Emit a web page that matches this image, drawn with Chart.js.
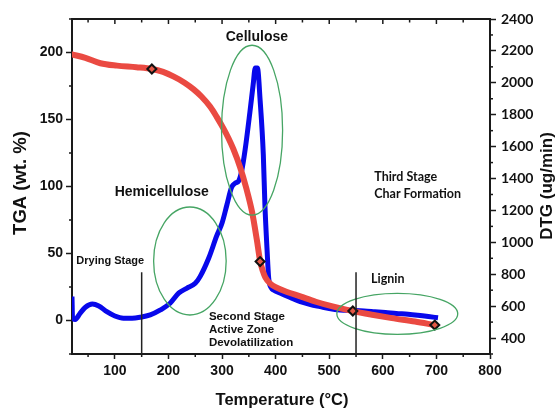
<!DOCTYPE html>
<html><head><meta charset="utf-8">
<script src="https://cdn.jsdelivr.net/npm/chart.js@4"></script>
<style>html,body{margin:0;padding:0;background:#fff}#wrap{width:555px;height:409px}</style>
</head><body><div id="wrap"><canvas id="c" width="555" height="409"></canvas></div>
<script>
// ---- data ----
const dtgTemp = [20,21,26,35,45,58,70,85,100,116,132,147,166,185,203,219,234,250,259,275,290,300,309,318,325,331,337,343,352,358,362,366,371,377,380,384,387,392,396,408,425,446,465,483,500,520,545,565,585,605,625,647,665,685,703];
const dtgValue = [660,525,517,555,593,613,601,565,538,524,524,530,545,576,618,681,712,743,785,900,1040,1121,1234,1347,1372,1385,1454,1579,1817,1987,2093,2093,1892,1548,1234,952,776,714,701,682,657,628,610,597,585,576,573,570,565,560,554,549,543,535,527];
const tgaTemp = [20,45,73,104,140,169,190,210,230,247,262,278,290,303,312,321,334,345,356,365,371,376,381,390,402,420,446,475,508,544,580,617,660,697];
const tgaValue = [198.6,196,192,190.2,189,187.7,185.5,182,177.5,172.5,167,159.5,152,143,136,128,114,99,81,60,44.5,37,32,27.5,24.5,21.5,18,14,10.3,7,4.3,1.8,-0.8,-3.4];
const markerTemp = [169,371,544,697];
const markerValue = [187.7,44,7.1,-3.4];
const xTicks = [100,200,300,400,500,600,700,800];
const yTicks = [0,50,100,150,200];
const y2Ticks = [400,600,800,1000,1200,1400,1600,1800,2000,2200,2400];
const xMinor = [50,150,250,350,450,550,650,750];
const yMinor = [-25,25,75,125,175,225];
const y2Minor = [300,500,700,900,1100,1300,1500,1700,1900,2100,2300];
// annotation ellipses (data units: temperature, TGA)
const ellipseNames = ['Hemicellulose','Cellulose','Lignin'];
const ellipseCx = [240,356,627];
const ellipseCy = [44.4,142,5];
const ellipseRx = [67.7,57,112.8];
const ellipseRy = [40.3,63.4,15.3];
// stage divider lines (temperature, from TGA value down to axis)
const dividerTemp = [150,550];
const dividerTop = [36,36];
// text labels (temperature, TGA)
const labelText = ['Cellulose','Hemicellulose','Drying Stage','Second Stage','Active Zone','Devolatilization','Third Stage','Char Formation','Lignin'];
const labelTemp = [365,187.5,28,275.5,275.5,275.5,584,584,578];
const labelTga = [211.6,95.9,44.4,2.4,-7.1,-17,107.3,94.2,30.7];
const labelStyle = ['big','big','small','mid','mid','mid','cal','cal','cal'];

const AX = '#1a1a1a';
const ARIAL = '"Liberation Sans", Arial, sans-serif';
const CAL = 'Lato, "Open Sans", sans-serif';

const fixedTicks = arr => axis => { axis.ticks = arr.map(v => ({value: v})); };
const plain = v => String(v);

const decor = {
  id: 'decor',
  afterDatasetsDraw(chart) {
    const ctx = chart.ctx, xs = chart.scales.x, ys = chart.scales.y;
    const a = chart.chartArea;
    ctx.save();
    // ellipses
    ctx.strokeStyle = 'rgb(70,165,100)';
    ctx.lineWidth = 1.3;
    for (let i = 0; i < ellipseCx.length; i++) {
      const cx = xs.getPixelForValue(ellipseCx[i]), cy = ys.getPixelForValue(ellipseCy[i]);
      const rx = Math.abs(xs.getPixelForValue(ellipseCx[i] + ellipseRx[i]) - cx);
      const ry = Math.abs(ys.getPixelForValue(ellipseCy[i] + ellipseRy[i]) - cy);
      ctx.beginPath(); ctx.ellipse(cx, cy, rx, ry, 0, 0, Math.PI * 2); ctx.stroke();
    }
    // divider lines
    ctx.strokeStyle = '#222'; ctx.lineWidth = 1.5;
    for (let i = 0; i < dividerTemp.length; i++) {
      const px = xs.getPixelForValue(dividerTemp[i]);
      ctx.beginPath(); ctx.moveTo(px, ys.getPixelForValue(dividerTop[i])); ctx.lineTo(px, a.bottom); ctx.stroke();
    }
    // text labels
    ctx.fillStyle = '#111'; ctx.textBaseline = 'middle';
    const fonts = {big: 'bold 14px ' + ARIAL, small: 'bold 11px ' + ARIAL, mid: 'bold 11.5px ' + ARIAL, cal: 'bold 12.5px ' + CAL};
    for (let i = 0; i < labelText.length; i++) {
      ctx.font = fonts[labelStyle[i]];
      ctx.textAlign = labelStyle[i] === 'big' ? 'center' : 'left';
      ctx.fillText(labelText[i], xs.getPixelForValue(labelTemp[i]), ys.getPixelForValue(labelTga[i]));
    }
    ctx.restore();
  },
  afterDraw(chart) {
    const ctx = chart.ctx, xs = chart.scales.x, ys = chart.scales.y, y2 = chart.scales.y2;
    const a = chart.chartArea;
    ctx.save();
    ctx.strokeStyle = AX;
    // top frame
    ctx.lineWidth = 2;
    ctx.beginPath(); ctx.moveTo(a.left - 1, a.top); ctx.lineTo(a.right + 1, a.top); ctx.stroke();
    ctx.lineWidth = 1.5;
    // top inward ticks
    xTicks.concat(xMinor).forEach(v => {
      if (v >= 800) return;
      const px = xs.getPixelForValue(v), len = xTicks.includes(v) ? 5 : 3.5;
      ctx.beginPath(); ctx.moveTo(px, a.top); ctx.lineTo(px, a.top + len); ctx.stroke();
    });
    // minor ticks
    xMinor.forEach(v => {
      const px = xs.getPixelForValue(v);
      ctx.beginPath(); ctx.moveTo(px, a.bottom); ctx.lineTo(px, a.bottom + 3); ctx.stroke();
    });
    yMinor.forEach(v => {
      const py = ys.getPixelForValue(v);
      ctx.beginPath(); ctx.moveTo(a.left, py); ctx.lineTo(a.left - 3, py); ctx.stroke();
    });
    y2Minor.forEach(v => {
      const py = y2.getPixelForValue(v);
      ctx.beginPath(); ctx.moveTo(a.right, py); ctx.lineTo(a.right + 3, py); ctx.stroke();
    });
    // axis titles
    ctx.fillStyle = '#111'; ctx.textAlign = 'center'; ctx.textBaseline = 'middle';
    ctx.font = 'bold 16.5px ' + ARIAL;
    ctx.fillText('Temperature (°C)', 282, 400);
    ctx.save(); ctx.translate(21, 183); ctx.rotate(-Math.PI / 2);
    ctx.font = 'bold 18.5px ' + ARIAL; ctx.fillText('TGA (wt. %)', 0, 0); ctx.restore();
    ctx.save(); ctx.translate(547, 186); ctx.rotate(-Math.PI / 2);
    ctx.font = 'bold 17px ' + ARIAL; ctx.fillText('DTG (ug/min)', 0, 0); ctx.restore();
    ctx.restore();
  }
};

new Chart(document.getElementById('c'), {
  type: 'line',
  data: {
    datasets: [
      {
        label: 'markers', data: markerTemp.map((t, i) => ({x: t, y: markerValue[i]})), yAxisID: 'y',
        showLine: false, pointStyle: 'rectRot', pointRadius: 4.5, pointBorderWidth: 2,
        pointBorderColor: '#111', pointBackgroundColor: 'rgb(228,88,70)'
      },
      {
        label: 'TGA', data: tgaTemp.map((t, i) => ({x: t, y: tgaValue[i]})), yAxisID: 'y',
        borderColor: 'rgb(234,74,66)', borderWidth: 6, pointRadius: 0, cubicInterpolationMode: 'monotone', borderCapStyle: 'round'
      },
      {
        label: 'DTG', data: dtgTemp.map((t, i) => ({x: t, y: dtgValue[i]})), yAxisID: 'y2',
        borderColor: 'rgb(8,8,235)', borderWidth: 5, pointRadius: 0, cubicInterpolationMode: 'monotone'
      }
    ]
  },
  options: {
    responsive: false, animation: false, devicePixelRatio: 1,
    layout: {padding: {top: 19, left: 0, right: 0, bottom: 0}},
    plugins: {legend: {display: false}, tooltip: {enabled: false}},
    scales: {
      x: {
        type: 'linear', position: 'bottom', min: 20, max: 800,
        afterBuildTicks: fixedTicks(xTicks),
        afterFit: s => { s.height = 55; },
        grid: {drawOnChartArea: false, drawTicks: true, tickLength: 5, tickColor: AX, tickWidth: 1.5},
        border: {display: true, color: AX, width: 2},
        ticks: {font: {family: ARIAL, size: 14, weight: 'bold'}, color: '#111', padding: 4, maxRotation: 0, callback: plain}
      },
      y: {
        type: 'linear', position: 'left', min: -25, max: 225,
        afterBuildTicks: fixedTicks(yTicks),
        afterFit: s => { s.width = 72; },
        grid: {drawOnChartArea: false, drawTicks: true, tickLength: 6, tickColor: AX, tickWidth: 1.5},
        border: {display: true, color: AX, width: 2},
        ticks: {font: {family: ARIAL, size: 14, weight: 'bold'}, color: '#111', padding: 3, callback: plain}
      },
      y2: {
        type: 'linear', position: 'right', min: 300, max: 2400,
        afterBuildTicks: fixedTicks(y2Ticks),
        afterFit: s => { s.width = 65; },
        grid: {drawOnChartArea: false, drawTicks: true, tickLength: 6, tickColor: AX, tickWidth: 1.5},
        border: {display: true, color: AX, width: 2},
        ticks: {font: {family: CAL, size: 14, weight: 'bold'}, color: '#111', padding: 5, callback: plain}
      }
    }
  },
  plugins: [decor]
});
</script></body></html>
